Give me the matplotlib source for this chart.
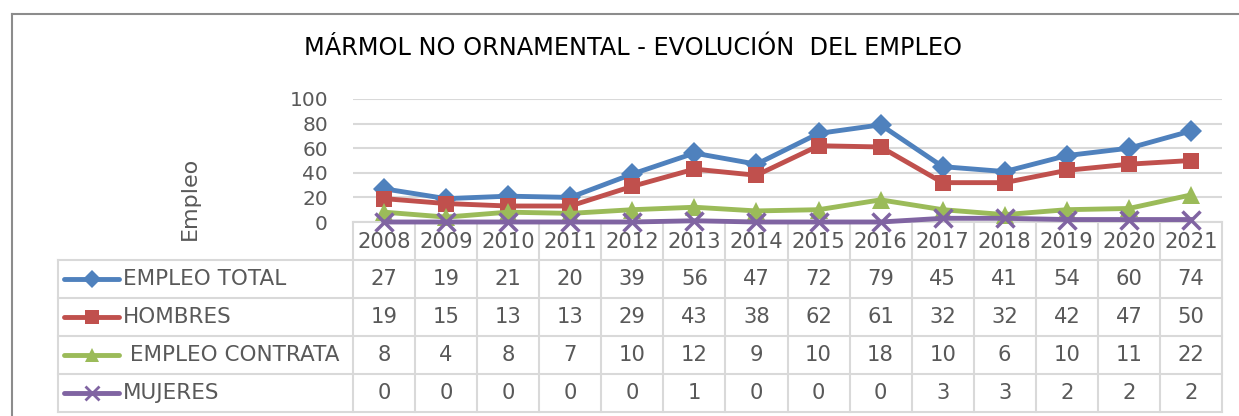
import matplotlib
matplotlib.use("Agg")
import matplotlib.pyplot as plt
from matplotlib.lines import Line2D
from matplotlib.transforms import blended_transform_factory

plt.rcParams['font.family'] = ['DejaVu Sans']

years = [2008, 2009, 2010, 2011, 2012, 2013, 2014, 2015, 2016, 2017, 2018, 2019, 2020, 2021]
empleo_total = [27, 19, 21, 20, 39, 56, 47, 72, 79, 45, 41, 54, 60, 74]
hombres = [19, 15, 13, 13, 29, 43, 38, 62, 61, 32, 32, 42, 47, 50]
empleo_contrata = [8, 4, 8, 7, 10, 12, 9, 10, 18, 10, 6, 10, 11, 22]
mujeres = [0, 0, 0, 0, 0, 1, 0, 0, 0, 3, 3, 2, 2, 2]

series_names = ["EMPLEO TOTAL", "HOMBRES", " EMPLEO CONTRATA", "MUJERES"]
series_values = [empleo_total, hombres, empleo_contrata, mujeres]
colors = ["#4F81BD", "#C0504D", "#9BBB59", "#8064A2"]
markers = ["D", "s", "^", "x"]
msizes = [11.5, 12, 12.5, 13]

title = "MÁRMOL NO ORNAMENTAL - EVOLUCIÓN  DEL EMPLEO"
ylabel = "Empleo"
yticks = [0, 20, 40, 60, 80, 100]

W, H = 1239, 416
fig = plt.figure(figsize=(W / 100, H / 100), dpi=100)
fig.patch.set_facecolor("white")

def fx(px):
    return px / W

def fy(py):
    return 1 - py / H

# outer chart border (cropped)
fig.add_artist(Line2D([fx(12), fx(12)], [fy(14), fy(420)], color="#8C8C8C", lw=1.5))
fig.add_artist(Line2D([fx(12), fx(1245)], [fy(14), fy(14)], color="#8C8C8C", lw=1.5))

ax = fig.add_axes([fx(353), fy(222), fx(1222) - fx(353), fy(99) - fy(222)])
n = len(years)
xs = list(range(n))
ax.set_xlim(-0.5, n - 0.5)
ax.set_ylim(0, 100)
for s in ax.spines.values():
    s.set_visible(False)
ax.set_xticks([])
ax.set_yticks(yticks)
ax.set_yticklabels([str(v) for v in yticks], fontsize=14.5, color="#595959")
ax.tick_params(axis="y", length=0, pad=18)
for v in yticks:
    ax.axhline(v, color="#D9D9D9", lw=1.5, zorder=0)

for vals, c, m, ms in zip(series_values, colors, markers, msizes):
    kw = dict(mew=2.5) if m == "x" else dict(mew=0)
    ax.plot(xs, vals, color=c, lw=3.5, marker=m, ms=ms, mfc=c, mec=c,
            clip_on=False, zorder=3, **kw)

fig.text(fx(633), fy(48), title, ha="center", va="center", fontsize=17.3, color="#000000")
fig.text(fx(190), fy(198), ylabel, ha="center", va="center", rotation=90, fontsize=16, color="#595959")

# data table
tr = blended_transform_factory(ax.transData, fig.transFigure)
grid_c = "#D9D9D9"
row_lines = [260, 298, 336, 374, 412]
ax.add_line(Line2D([-0.5, n - 0.5], [fy(222), fy(222)], transform=tr, color=grid_c, lw=1.5, clip_on=False))
for k in range(n + 1):
    ax.add_line(Line2D([k - 0.5, k - 0.5], [fy(222), fy(412)], transform=tr, color=grid_c, lw=1.5, clip_on=False))
for yl in row_lines:
    fig.add_artist(Line2D([fx(58), fx(1222)], [fy(yl), fy(yl)], color=grid_c, lw=1.5))
fig.add_artist(Line2D([fx(58), fx(58)], [fy(260), fy(412)], color=grid_c, lw=1.5))

for i, yr in enumerate(years):
    ax.text(i, fy(242), str(yr), transform=tr, ha="center", va="center", fontsize=15.2, color="#595959", clip_on=False)

row_centers = [279, 317, 355, 393]
for name, vals, c, m, ms, yc in zip(series_names, series_values, colors, markers, msizes, row_centers):
    for i, v in enumerate(vals):
        ax.text(i, fy(yc), str(v), transform=tr, ha="center", va="center", fontsize=15.2, color="#595959", clip_on=False)
    fig.add_artist(Line2D([fx(64), fx(119)], [fy(yc), fy(yc)], color=c, lw=3.5, solid_capstyle="round"))
    kw = dict(mew=2) if m == "x" else dict(mew=0)
    fig.add_artist(Line2D([fx(92)], [fy(yc)], color=c, marker=m, ms=ms * 0.8, mfc=c, mec=c, **kw))
    fig.text(fx(123), fy(yc), name, ha="left", va="center", fontsize=15.5, color="#595959")

fig.savefig("out.png", dpi=100)
